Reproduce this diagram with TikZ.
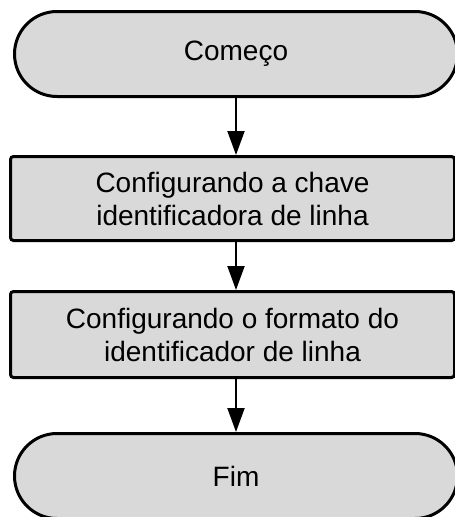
\documentclass[tikz,border=0pt]{standalone}
\usepackage{fontspec}
\setmainfont{Liberation Sans}
\usepackage{tikz}
\usetikzlibrary{shapes.misc, arrows.meta, positioning}
\definecolor{flowgray}{RGB}{217,217,217}

\begin{document}
\begin{tikzpicture}[
    x=1pt, y=1pt,
    term/.style={draw=black, line width=3pt, fill=flowgray, rounded rectangle,
                 minimum width=447pt, minimum height=85pt, inner sep=2pt,
                 font=\fontsize{28}{33}\selectfont, align=center},
    stepbox/.style={draw=black, line width=3pt, fill=flowgray, rounded corners=3pt,
                 minimum width=444pt, minimum height=84pt, inner sep=2pt,
                 font=\fontsize{28}{33}\selectfont, align=center},
    arrow/.style={-{Triangle[length=24pt, width=17pt]}, line width=2pt, color=black}
  ]
    \useasboundingbox (0,0) rectangle (455,-517);
    \clip (0,0) rectangle (455,-517);

    \node[term] (start) at (236,-54) {Começo};
    \node[stepbox, below=57pt of start, xshift=-3.5pt] (conf1)
         {Configurando a chave\\identificadora de linha};
    \node[stepbox, below=48pt of conf1, minimum height=86pt] (conf2)
         {Configurando o formato do\\identificador de linha};
    \node[term, below=53pt of conf2, xshift=3.5pt] (fim) {Fim};

    % connectors run straight down at the centre of the terminators
    \draw[arrow] (start.south) -- (start.south |- conf1.north);
    \draw[arrow] (start.south |- conf1.south) -- (start.south |- conf2.north);
    \draw[arrow] (start.south |- conf2.south) -- (fim.north);

  \end{tikzpicture}
\end{document}
